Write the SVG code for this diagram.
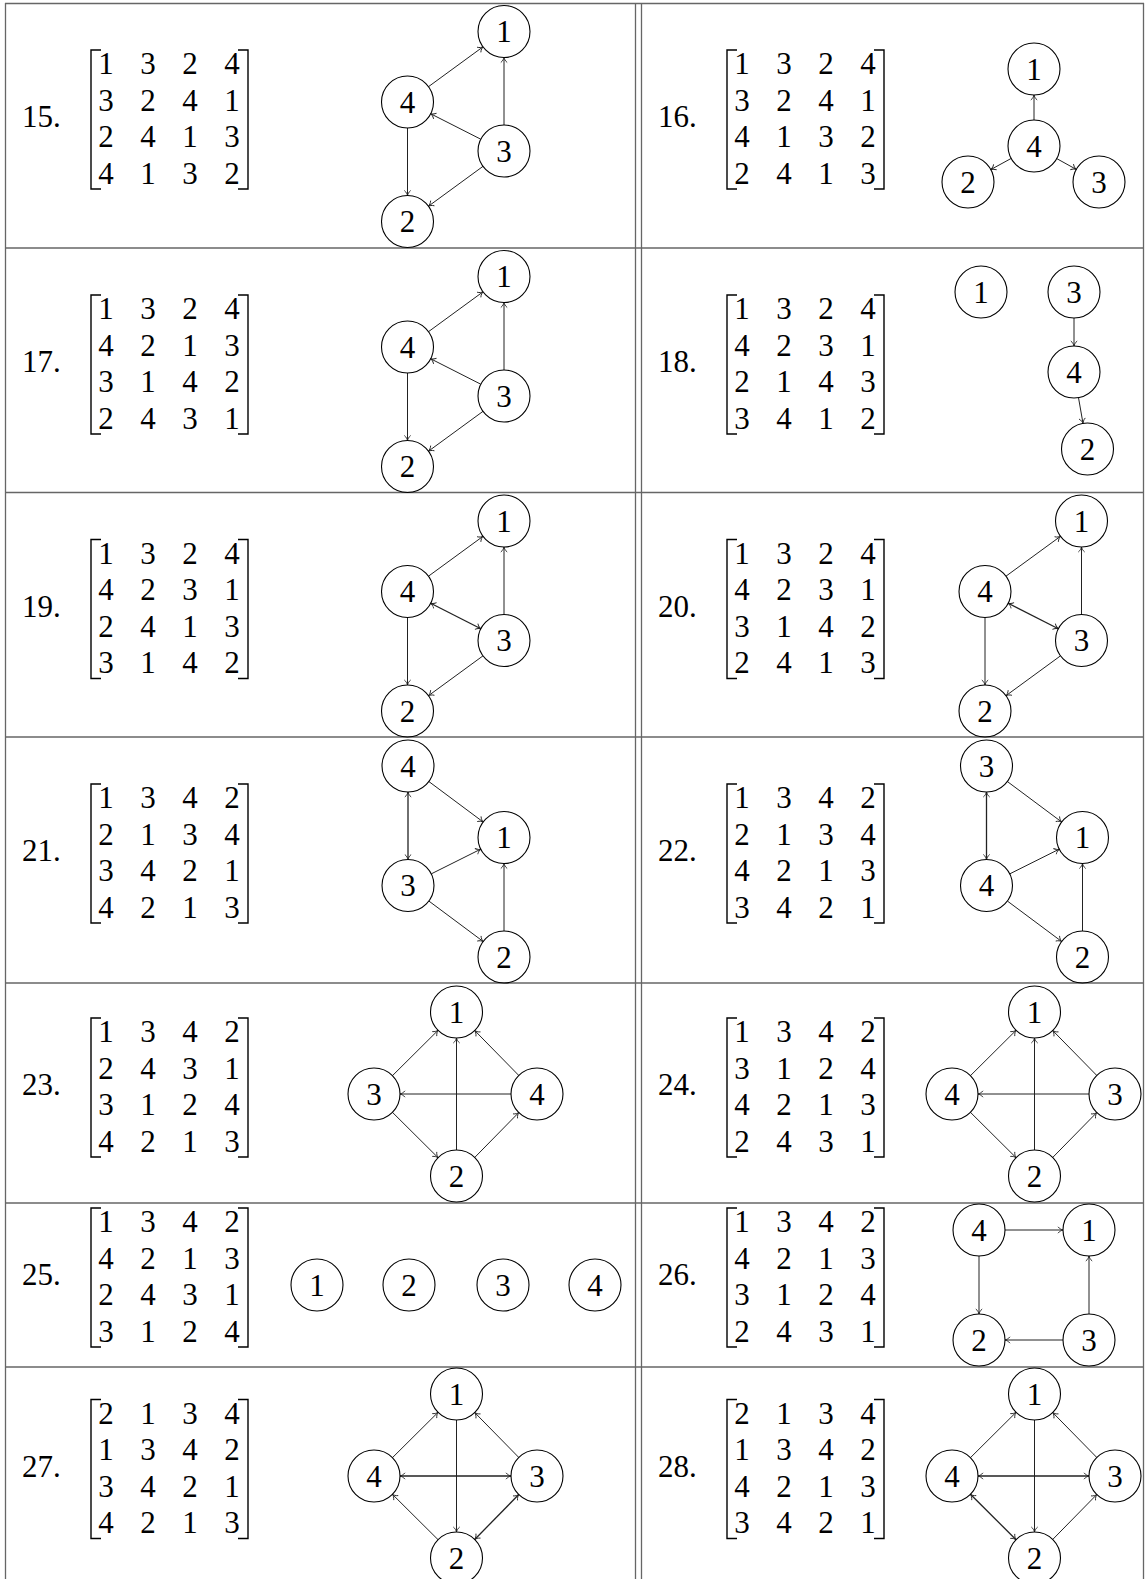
<svg xmlns="http://www.w3.org/2000/svg" width="1145" height="1579" viewBox="0 0 1145 1579">
<style>
.t{font-family:"Liberation Serif","Times New Roman",serif;font-size:31px;fill:#000;text-anchor:middle}
.lb{font-family:"Liberation Serif","Times New Roman",serif;font-size:31px;fill:#000;text-anchor:start}
.n circle{fill:none;stroke:#000;stroke-width:1.1}
.e path{stroke:#222;stroke-width:1;fill:none;marker-end:url(#ar)}
.e path.bi{marker-start:url(#ar);stroke-width:1.3}
.br{fill:none;stroke:#000;stroke-width:1.4}
.grid line{stroke:#666;stroke-width:1.3}
</style>
<defs>
<marker id="ar" viewBox="-6 -4 7 8" refX="0" refY="0" markerWidth="7" markerHeight="8" markerUnits="userSpaceOnUse" orient="auto-start-reverse">
<path d="M-5,-3.2 C-3.5,-1.2 -1.2,-0.3 0,0 C-1.2,0.3 -3.5,1.2 -5,3.2" fill="none" stroke="#222" stroke-width="0.9"/>
</marker>
<g id="bk">
<path class="br" d="M101,-69.5 H91 V69.5 H101"/>
<path class="br" d="M238,-69.5 H248 V69.5 H238"/>
</g>
</defs>
<rect width="1145" height="1579" fill="#fff"/>

<g id="table" class="grid">
<line x1="5" y1="3.5" x2="1144" y2="3.5"/>
<line x1="5.5" y1="3" x2="5.5" y2="1579"/>
<line x1="635.5" y1="3" x2="635.5" y2="1579"/>
<line x1="641.5" y1="3" x2="641.5" y2="1579"/>
<line x1="1143.5" y1="3" x2="1143.5" y2="1579"/>
<line x1="5" y1="248" x2="1144" y2="248"/>
<line x1="5" y1="492.5" x2="1144" y2="492.5"/>
<line x1="5" y1="737" x2="1144" y2="737"/>
<line x1="5" y1="983" x2="1144" y2="983"/>
<line x1="5" y1="1203" x2="1144" y2="1203"/>
<line x1="5" y1="1367" x2="1144" y2="1367"/>
</g>

<!-- Cell 15 -->
<g id="cell15">
<text class="lb" x="22" y="127">15.</text>
<g id="m15" transform="translate(0,119.5)">
<use href="#bk"/>
<text class="t" x="106 148 190 232" y="-45.5">1324</text>
<text class="t" x="106 148 190 232" y="-9">3241</text>
<text class="t" x="106 148 190 232" y="27.5">2413</text>
<text class="t" x="106 148 190 232" y="64">4132</text>
</g>
<g transform="translate(0,3)">
<g id="c15-edges" class="e">
<path d="M428.5,83.66 L483,43.84"/>
<path d="M504,122 L504,54.5"/>
<path d="M480.82,136.23 L430.68,110.77"/>
<path d="M407.5,125 L407.5,192.5"/>
<path d="M483,163.34 L428.5,203.16"/>
</g>
<g id="c15-n1" class="n" transform="translate(504,28.5)"><circle r="26"/><text class="t" y="10.5">1</text></g>
<g id="c15-n4" class="n" transform="translate(407.5,99)"><circle r="26"/><text class="t" y="10.5">4</text></g>
<g id="c15-n3" class="n" transform="translate(504,148)"><circle r="26"/><text class="t" y="10.5">3</text></g>
<g id="c15-n2" class="n" transform="translate(407.5,218.5)"><circle r="26"/><text class="t" y="10.5">2</text></g>
</g>
</g>

<!-- Cell 16 -->
<g id="cell16">
<text class="lb" x="658" y="127">16.</text>
<g id="m16" transform="translate(636,119.5)">
<use href="#bk"/>
<text class="t" x="106 148 190 232" y="-45.5">1324</text>
<text class="t" x="106 148 190 232" y="-9">3241</text>
<text class="t" x="106 148 190 232" y="27.5">4132</text>
<text class="t" x="106 148 190 232" y="64">2413</text>
</g>
<g id="c16-edges" class="e">
<path d="M1034,120 L1034,95"/>
<path d="M1011.17,158.45 L990.83,169.55"/>
<path d="M1056.75,158.6 L1076.25,169.4"/>
</g>
<g id="c16-n1" class="n" transform="translate(1034,69)"><circle r="26"/><text class="t" y="10.5">1</text></g>
<g id="c16-n4" class="n" transform="translate(1034,146)"><circle r="26"/><text class="t" y="10.5">4</text></g>
<g id="c16-n2" class="n" transform="translate(968,182)"><circle r="26"/><text class="t" y="10.5">2</text></g>
<g id="c16-n3" class="n" transform="translate(1099,182)"><circle r="26"/><text class="t" y="10.5">3</text></g>
</g>

<!-- Cell 17 -->
<g id="cell17">
<text class="lb" x="22" y="372">17.</text>
<g id="m17" transform="translate(0,364.5)">
<use href="#bk"/>
<text class="t" x="106 148 190 232" y="-45.5">1324</text>
<text class="t" x="106 148 190 232" y="-9">4213</text>
<text class="t" x="106 148 190 232" y="27.5">3142</text>
<text class="t" x="106 148 190 232" y="64">2431</text>
</g>
<g transform="translate(0,248)">
<g id="c17-edges" class="e">
<path d="M428.5,83.66 L483,43.84"/>
<path d="M504,122 L504,54.5"/>
<path d="M480.82,136.23 L430.68,110.77"/>
<path d="M407.5,125 L407.5,192.5"/>
<path d="M483,163.34 L428.5,203.16"/>
</g>
<g id="c17-n1" class="n" transform="translate(504,28.5)"><circle r="26"/><text class="t" y="10.5">1</text></g>
<g id="c17-n4" class="n" transform="translate(407.5,99)"><circle r="26"/><text class="t" y="10.5">4</text></g>
<g id="c17-n3" class="n" transform="translate(504,148)"><circle r="26"/><text class="t" y="10.5">3</text></g>
<g id="c17-n2" class="n" transform="translate(407.5,218.5)"><circle r="26"/><text class="t" y="10.5">2</text></g>
</g>
</g>

<!-- Cell 18 -->
<g id="cell18">
<text class="lb" x="658" y="372">18.</text>
<g id="m18" transform="translate(636,364.5)">
<use href="#bk"/>
<text class="t" x="106 148 190 232" y="-45.5">1324</text>
<text class="t" x="106 148 190 232" y="-9">4231</text>
<text class="t" x="106 148 190 232" y="27.5">2143</text>
<text class="t" x="106 148 190 232" y="64">3412</text>
</g>
<g id="c18-edges" class="e">
<path d="M1074,318 L1074,346"/>
<path d="M1078.49,397.61 L1083.01,423.39"/>
</g>
<g id="c18-n1" class="n" transform="translate(981,292)"><circle r="26"/><text class="t" y="10.5">1</text></g>
<g id="c18-n3" class="n" transform="translate(1074,292)"><circle r="26"/><text class="t" y="10.5">3</text></g>
<g id="c18-n4" class="n" transform="translate(1074,372)"><circle r="26"/><text class="t" y="10.5">4</text></g>
<g id="c18-n2" class="n" transform="translate(1087.5,449)"><circle r="26"/><text class="t" y="10.5">2</text></g>
</g>

<!-- Cell 19 -->
<g id="cell19">
<text class="lb" x="22" y="616.5">19.</text>
<g id="m19" transform="translate(0,609)">
<use href="#bk"/>
<text class="t" x="106 148 190 232" y="-45.5">1324</text>
<text class="t" x="106 148 190 232" y="-9">4231</text>
<text class="t" x="106 148 190 232" y="27.5">2413</text>
<text class="t" x="106 148 190 232" y="64">3142</text>
</g>
<g transform="translate(0,492.5)">
<g id="c19-edges" class="e">
<path d="M428.5,83.66 L483,43.84"/>
<path d="M504,122 L504,54.5"/>
<path class="bi" d="M480.82,136.23 L430.68,110.77"/>
<path d="M407.5,125 L407.5,192.5"/>
<path d="M483,163.34 L428.5,203.16"/>
</g>
<g id="c19-n1" class="n" transform="translate(504,28.5)"><circle r="26"/><text class="t" y="10.5">1</text></g>
<g id="c19-n4" class="n" transform="translate(407.5,99)"><circle r="26"/><text class="t" y="10.5">4</text></g>
<g id="c19-n3" class="n" transform="translate(504,148)"><circle r="26"/><text class="t" y="10.5">3</text></g>
<g id="c19-n2" class="n" transform="translate(407.5,218.5)"><circle r="26"/><text class="t" y="10.5">2</text></g>
</g>
</g>

<!-- Cell 20 -->
<g id="cell20">
<text class="lb" x="658" y="616.5">20.</text>
<g id="m20" transform="translate(636,609)">
<use href="#bk"/>
<text class="t" x="106 148 190 232" y="-45.5">1324</text>
<text class="t" x="106 148 190 232" y="-9">4231</text>
<text class="t" x="106 148 190 232" y="27.5">3142</text>
<text class="t" x="106 148 190 232" y="64">2413</text>
</g>
<g transform="translate(577.5,492.5)">
<g id="c20-edges" class="e">
<path d="M428.5,83.66 L483,43.84"/>
<path d="M504,122 L504,54.5"/>
<path class="bi" d="M480.82,136.23 L430.68,110.77"/>
<path d="M407.5,125 L407.5,192.5"/>
<path d="M483,163.34 L428.5,203.16"/>
</g>
<g id="c20-n1" class="n" transform="translate(504,28.5)"><circle r="26"/><text class="t" y="10.5">1</text></g>
<g id="c20-n4" class="n" transform="translate(407.5,99)"><circle r="26"/><text class="t" y="10.5">4</text></g>
<g id="c20-n3" class="n" transform="translate(504,148)"><circle r="26"/><text class="t" y="10.5">3</text></g>
<g id="c20-n2" class="n" transform="translate(407.5,218.5)"><circle r="26"/><text class="t" y="10.5">2</text></g>
</g>
</g>

<!-- Cell 21 -->
<g id="cell21">
<text class="lb" x="22" y="861">21.</text>
<g id="m21" transform="translate(0,853.5)">
<use href="#bk"/>
<text class="t" x="106 148 190 232" y="-45.5">1342</text>
<text class="t" x="106 148 190 232" y="-9">2134</text>
<text class="t" x="106 148 190 232" y="27.5">3421</text>
<text class="t" x="106 148 190 232" y="64">4213</text>
</g>
<g transform="translate(0,737)">
<g id="c21-edges" class="e">
<path class="bi" d="M408,55 L408,122.5"/>
<path d="M428.85,44.53 L483.15,84.97"/>
<path d="M431.25,136.87 L480.75,112.13"/>
<path d="M428.85,164.03 L483.15,204.47"/>
<path d="M504,194 L504,126.5"/>
</g>
<g id="c21-n4" class="n" transform="translate(408,29)"><circle r="26"/><text class="t" y="10.5">4</text></g>
<g id="c21-n1" class="n" transform="translate(504,100.5)"><circle r="26"/><text class="t" y="10.5">1</text></g>
<g id="c21-n3" class="n" transform="translate(408,148.5)"><circle r="26"/><text class="t" y="10.5">3</text></g>
<g id="c21-n2" class="n" transform="translate(504,220)"><circle r="26"/><text class="t" y="10.5">2</text></g>
</g>
</g>

<!-- Cell 22 -->
<g id="cell22">
<text class="lb" x="658" y="861">22.</text>
<g id="m22" transform="translate(636,853.5)">
<use href="#bk"/>
<text class="t" x="106 148 190 232" y="-45.5">1342</text>
<text class="t" x="106 148 190 232" y="-9">2134</text>
<text class="t" x="106 148 190 232" y="27.5">4213</text>
<text class="t" x="106 148 190 232" y="64">3421</text>
</g>
<g transform="translate(578.5,737)">
<g id="c22-edges" class="e">
<path class="bi" d="M408,55 L408,122.5"/>
<path d="M428.85,44.53 L483.15,84.97"/>
<path d="M431.25,136.87 L480.75,112.13"/>
<path d="M428.85,164.03 L483.15,204.47"/>
<path d="M504,194 L504,126.5"/>
</g>
<g id="c22-n3" class="n" transform="translate(408,29)"><circle r="26"/><text class="t" y="10.5">3</text></g>
<g id="c22-n1" class="n" transform="translate(504,100.5)"><circle r="26"/><text class="t" y="10.5">1</text></g>
<g id="c22-n4" class="n" transform="translate(408,148.5)"><circle r="26"/><text class="t" y="10.5">4</text></g>
<g id="c22-n2" class="n" transform="translate(504,220)"><circle r="26"/><text class="t" y="10.5">2</text></g>
</g>
</g>

<!-- Cell 23 -->
<g id="cell23">
<text class="lb" x="22" y="1095">23.</text>
<g id="m23" transform="translate(0,1087.5)">
<use href="#bk"/>
<text class="t" x="106 148 190 232" y="-45.5">1342</text>
<text class="t" x="106 148 190 232" y="-9">2431</text>
<text class="t" x="106 148 190 232" y="27.5">3124</text>
<text class="t" x="106 148 190 232" y="64">4213</text>
</g>
<g transform="translate(0,982)">
<g id="c23-edges" class="e">
<path d="M392.44,93.67 L438.06,48.33"/>
<path d="M518.78,93.45 L474.72,48.55"/>
<path d="M456.5,168 L456.5,56"/>
<path d="M511,112 L400,112"/>
<path d="M392.44,130.33 L438.06,175.67"/>
<path d="M474.72,175.45 L518.78,130.55"/>
</g>
<g id="c23-n1" class="n" transform="translate(456.5,30)"><circle r="26"/><text class="t" y="10.5">1</text></g>
<g id="c23-n3" class="n" transform="translate(374,112)"><circle r="26"/><text class="t" y="10.5">3</text></g>
<g id="c23-n4" class="n" transform="translate(537,112)"><circle r="26"/><text class="t" y="10.5">4</text></g>
<g id="c23-n2" class="n" transform="translate(456.5,194)"><circle r="26"/><text class="t" y="10.5">2</text></g>
</g>
</g>

<!-- Cell 24 -->
<g id="cell24">
<text class="lb" x="658" y="1095">24.</text>
<g id="m24" transform="translate(636,1087.5)">
<use href="#bk"/>
<text class="t" x="106 148 190 232" y="-45.5">1342</text>
<text class="t" x="106 148 190 232" y="-9">3124</text>
<text class="t" x="106 148 190 232" y="27.5">4213</text>
<text class="t" x="106 148 190 232" y="64">2431</text>
</g>
<g transform="translate(578,982)">
<g id="c24-edges" class="e">
<path d="M392.44,93.67 L438.06,48.33"/>
<path d="M518.78,93.45 L474.72,48.55"/>
<path d="M456.5,168 L456.5,56"/>
<path d="M511,112 L400,112"/>
<path d="M392.44,130.33 L438.06,175.67"/>
<path d="M474.72,175.45 L518.78,130.55"/>
</g>
<g id="c24-n1" class="n" transform="translate(456.5,30)"><circle r="26"/><text class="t" y="10.5">1</text></g>
<g id="c24-n4" class="n" transform="translate(374,112)"><circle r="26"/><text class="t" y="10.5">4</text></g>
<g id="c24-n3" class="n" transform="translate(537,112)"><circle r="26"/><text class="t" y="10.5">3</text></g>
<g id="c24-n2" class="n" transform="translate(456.5,194)"><circle r="26"/><text class="t" y="10.5">2</text></g>
</g>
</g>

<!-- Cell 25 -->
<g id="cell25">
<text class="lb" x="22" y="1285">25.</text>
<g id="m25" transform="translate(0,1277.5)">
<use href="#bk"/>
<text class="t" x="106 148 190 232" y="-45.5">1342</text>
<text class="t" x="106 148 190 232" y="-9">4213</text>
<text class="t" x="106 148 190 232" y="27.5">2431</text>
<text class="t" x="106 148 190 232" y="64">3124</text>
</g>
<g id="c25-n1" class="n" transform="translate(317,1285)"><circle r="26"/><text class="t" y="10.5">1</text></g>
<g id="c25-n2" class="n" transform="translate(409,1285)"><circle r="26"/><text class="t" y="10.5">2</text></g>
<g id="c25-n3" class="n" transform="translate(503,1285)"><circle r="26"/><text class="t" y="10.5">3</text></g>
<g id="c25-n4" class="n" transform="translate(595,1285)"><circle r="26"/><text class="t" y="10.5">4</text></g>
</g>

<!-- Cell 26 -->
<g id="cell26">
<text class="lb" x="658" y="1285">26.</text>
<g id="m26" transform="translate(636,1277.5)">
<use href="#bk"/>
<text class="t" x="106 148 190 232" y="-45.5">1342</text>
<text class="t" x="106 148 190 232" y="-9">4213</text>
<text class="t" x="106 148 190 232" y="27.5">3124</text>
<text class="t" x="106 148 190 232" y="64">2431</text>
</g>
<g id="c26-edges" class="e">
<path d="M1005,1230 L1063,1230"/>
<path d="M979,1256 L979,1314"/>
<path d="M1063,1340 L1005,1340"/>
<path d="M1089,1314 L1089,1256"/>
</g>
<g id="c26-n4" class="n" transform="translate(979,1230)"><circle r="26"/><text class="t" y="10.5">4</text></g>
<g id="c26-n1" class="n" transform="translate(1089,1230)"><circle r="26"/><text class="t" y="10.5">1</text></g>
<g id="c26-n2" class="n" transform="translate(979,1340)"><circle r="26"/><text class="t" y="10.5">2</text></g>
<g id="c26-n3" class="n" transform="translate(1089,1340)"><circle r="26"/><text class="t" y="10.5">3</text></g>
</g>

<!-- Cell 27 -->
<g id="cell27">
<text class="lb" x="22" y="1476.5">27.</text>
<g id="m27" transform="translate(0,1469)">
<use href="#bk"/>
<text class="t" x="106 148 190 232" y="-45.5">2134</text>
<text class="t" x="106 148 190 232" y="-9">1342</text>
<text class="t" x="106 148 190 232" y="27.5">3421</text>
<text class="t" x="106 148 190 232" y="64">4213</text>
</g>
<g transform="translate(0,1364)">
<g id="c27-edges" class="e">
<path d="M392.44,93.67 L438.06,48.33"/>
<path d="M518.78,93.45 L474.72,48.55"/>
<path d="M456.5,56 L456.5,168"/>
<path class="bi" d="M400,112 L511,112"/>
<path d="M438.06,175.67 L392.44,130.33"/>
<path class="bi" d="M474.72,175.45 L518.78,130.55"/>
</g>
<g id="c27-n1" class="n" transform="translate(456.5,30)"><circle r="26"/><text class="t" y="10.5">1</text></g>
<g id="c27-n4" class="n" transform="translate(374,112)"><circle r="26"/><text class="t" y="10.5">4</text></g>
<g id="c27-n3" class="n" transform="translate(537,112)"><circle r="26"/><text class="t" y="10.5">3</text></g>
<g id="c27-n2" class="n" transform="translate(456.5,194)"><circle r="26"/><text class="t" y="10.5">2</text></g>
</g>
</g>

<!-- Cell 28 -->
<g id="cell28">
<text class="lb" x="658" y="1476.5">28.</text>
<g id="m28" transform="translate(636,1469)">
<use href="#bk"/>
<text class="t" x="106 148 190 232" y="-45.5">2134</text>
<text class="t" x="106 148 190 232" y="-9">1342</text>
<text class="t" x="106 148 190 232" y="27.5">4213</text>
<text class="t" x="106 148 190 232" y="64">3421</text>
</g>
<g transform="translate(578,1364)">
<g id="c28-edges" class="e">
<path d="M392.44,93.67 L438.06,48.33"/>
<path d="M518.78,93.45 L474.72,48.55"/>
<path d="M456.5,56 L456.5,168"/>
<path class="bi" d="M400,112 L511,112"/>
<path class="bi" d="M392.44,130.33 L438.06,175.67"/>
<path d="M474.72,175.45 L518.78,130.55"/>
</g>
<g id="c28-n1" class="n" transform="translate(456.5,30)"><circle r="26"/><text class="t" y="10.5">1</text></g>
<g id="c28-n4" class="n" transform="translate(374,112)"><circle r="26"/><text class="t" y="10.5">4</text></g>
<g id="c28-n3" class="n" transform="translate(537,112)"><circle r="26"/><text class="t" y="10.5">3</text></g>
<g id="c28-n2" class="n" transform="translate(456.5,194)"><circle r="26"/><text class="t" y="10.5">2</text></g>
</g>
</g>
</svg>
